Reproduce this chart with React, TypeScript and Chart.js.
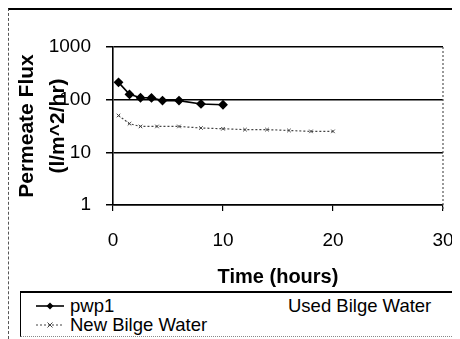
import React, { useEffect, useRef } from "react";
import { Chart, registerables } from "chart.js";

Chart.register(...registerables);

const PWP1_X = [0.5, 1.5, 2.5, 3.5, 4.5, 6, 8, 10];
const PWP1_Y = [213, 126, 109, 108, 96, 96, 83, 80];
const NEW_X = [0.5, 1.5, 2.5, 4, 6, 8, 10, 12, 14, 16, 18, 20];
const NEW_Y = [50, 35, 31, 31, 31, 29, 28, 27, 27, 26, 25, 25];
const USED_X: number[] = [];
const USED_Y: number[] = [];
const Y_TICKS = [1, 10, 100, 1000];
const X_TICKS = [0, 10, 20, 30];
const LABELS = ["pwp1", "Used Bilge Water", "New Bilge Water"];
const Y_TITLE = ["Permeate Flux", "(l/m^2/hr)"];
const X_TITLE = "Time (hours)";

const FONT = "'Liberation Sans', Arial, sans-serif";

const rightBorder = {
  id: "rightBorder",
  afterDraw(chart: any) {
    const { ctx, chartArea } = chart;
    ctx.save();
    ctx.strokeStyle = "#555";
    ctx.lineWidth = 1.2;
    ctx.setLineDash([2, 2]);
    ctx.beginPath();
    ctx.moveTo(chartArea.right, chartArea.top);
    ctx.lineTo(chartArea.right, chartArea.bottom + 6);
    ctx.stroke();
    ctx.restore();
  },
};

export default function App() {
  const ref = useRef<HTMLCanvasElement | null>(null);
  useEffect(() => {
    if (!ref.current) return;
    const chart = new Chart(ref.current, {
      type: "line",
      data: {
        datasets: [
          {
            label: LABELS[0],
            data: PWP1_X.map((x, i) => ({ x, y: PWP1_Y[i] })),
            borderColor: "#000",
            backgroundColor: "#000",
            borderWidth: 1.6,
            pointStyle: "rectRot",
            pointRadius: 3.8,
            tension: 0,
          },
          {
            label: LABELS[1],
            data: USED_X.map((x, i) => ({ x, y: USED_Y[i] })),
            borderColor: "#000",
            backgroundColor: "#000",
          },
          {
            label: LABELS[2],
            data: NEW_X.map((x, i) => ({ x, y: NEW_Y[i] })),
            borderColor: "#444",
            backgroundColor: "#444",
            borderWidth: 1.2,
            borderDash: [2, 2],
            pointStyle: "crossRot",
            pointRadius: 2.5,
            pointBorderWidth: 1,
            tension: 0,
          },
        ],
      },
      options: {
        animation: false,
        responsive: false,
        layout: { padding: { top: 39, right: 17, bottom: 46, left: 0 } },
        plugins: { legend: { display: false }, tooltip: { enabled: false } },
        scales: {
          x: {
            type: "linear",
            min: 0,
            max: 30,
            afterFit: (s: any) => {
              s.height = 88;
              s.paddingLeft = 0;
              s.paddingRight = 0;
            },
            afterBuildTicks: (s: any) => {
              s.ticks = X_TICKS.map((v) => ({ value: v }));
            },
            ticks: {
              font: { family: FONT, size: 19 },
              color: "#000",
              padding: 18,
              maxRotation: 0,
            },
            grid: { drawOnChartArea: false, color: "#000", tickLength: 6, lineWidth: 1.2 },
            border: { color: "#000", width: 1.6 },
            title: {
              display: true,
              text: X_TITLE,
              font: { family: FONT, size: 20, weight: "bold", lineHeight: 1.2 },
              color: "#000",
              padding: { top: 0, bottom: 4 },
            },
          },
          y: {
            type: "logarithmic",
            min: 1,
            max: 1000,
            afterFit: (s: any) => {
              s.width = 105;
              s.paddingTop = 0;
              s.paddingBottom = 0;
            },
            afterBuildTicks: (s: any) => {
              s.ticks = Y_TICKS.map((v) => ({ value: v }));
            },
            ticks: {
              font: { family: FONT, size: 19 },
              color: "#000",
              padding: 15,
              callback: (v: any) => String(v),
            },
            grid: { color: "#000", lineWidth: 1.5, tickLength: 7 },
            border: { color: "#000", width: 1.6 },
            title: {
              display: true,
              text: Y_TITLE,
              font: { family: FONT, size: 21, weight: "bold", lineHeight: 31 / 21 },
              color: "#000",
              padding: { top: 3.5, bottom: 0 },
            },
          },
        },
      },
      plugins: [rightBorder],
    } as any);
    return () => chart.destroy();
  }, []);

  const textStyle: React.CSSProperties = {
    position: "absolute",
    fontFamily: FONT,
    fontSize: 18.5,
    color: "#000",
    lineHeight: "20px",
    whiteSpace: "nowrap",
  };

  return (
    <div style={{ position: "relative", width: 452, height: 331 }}>
      <canvas ref={ref} width={452} height={331} style={{ position: "absolute", left: 0, top: 0 }} />
      <div
        style={{
          position: "absolute",
          left: 0,
          top: 0,
          width: 452,
          height: 331,
          boxSizing: "border-box",
          borderTop: "2px solid #000",
          borderLeft: "1px dashed #555",
          pointerEvents: "none",
        }}
      />
      <div
        style={{
          position: "absolute",
          left: 12,
          top: 283,
          width: 438,
          height: 46,
          boxSizing: "border-box",
          borderTop: "2px solid #000",
          borderLeft: "1.5px solid #000",
          borderRight: "1.5px solid #000",
          borderBottom: "1px dotted #888",
          background: "#fff",
        }}
      >
        <svg width={30} height={12} style={{ position: "absolute", left: 15, top: 7 }}>
          <line x1={0} y1={6} x2={28} y2={6} stroke="#000" strokeWidth={1.6} />
          <polygon points="14,2.5 17.5,6 14,9.5 10.5,6" fill="#000" />
        </svg>
        <span style={{ ...textStyle, left: 49, top: 3 }}>{LABELS[0]}</span>
        <span style={{ ...textStyle, left: 267, top: 3 }}>{LABELS[1]}</span>
        <svg width={30} height={12} style={{ position: "absolute", left: 15, top: 26 }}>
          <line x1={0} y1={6} x2={28} y2={6} stroke="#444" strokeWidth={1.2} strokeDasharray="2 2" />
          <path d="M11.5,3.5 L16.5,8.5 M16.5,3.5 L11.5,8.5" stroke="#444" strokeWidth={1} />
        </svg>
        <span style={{ ...textStyle, left: 49, top: 22 }}>{LABELS[2]}</span>
      </div>
    </div>
  );
}
